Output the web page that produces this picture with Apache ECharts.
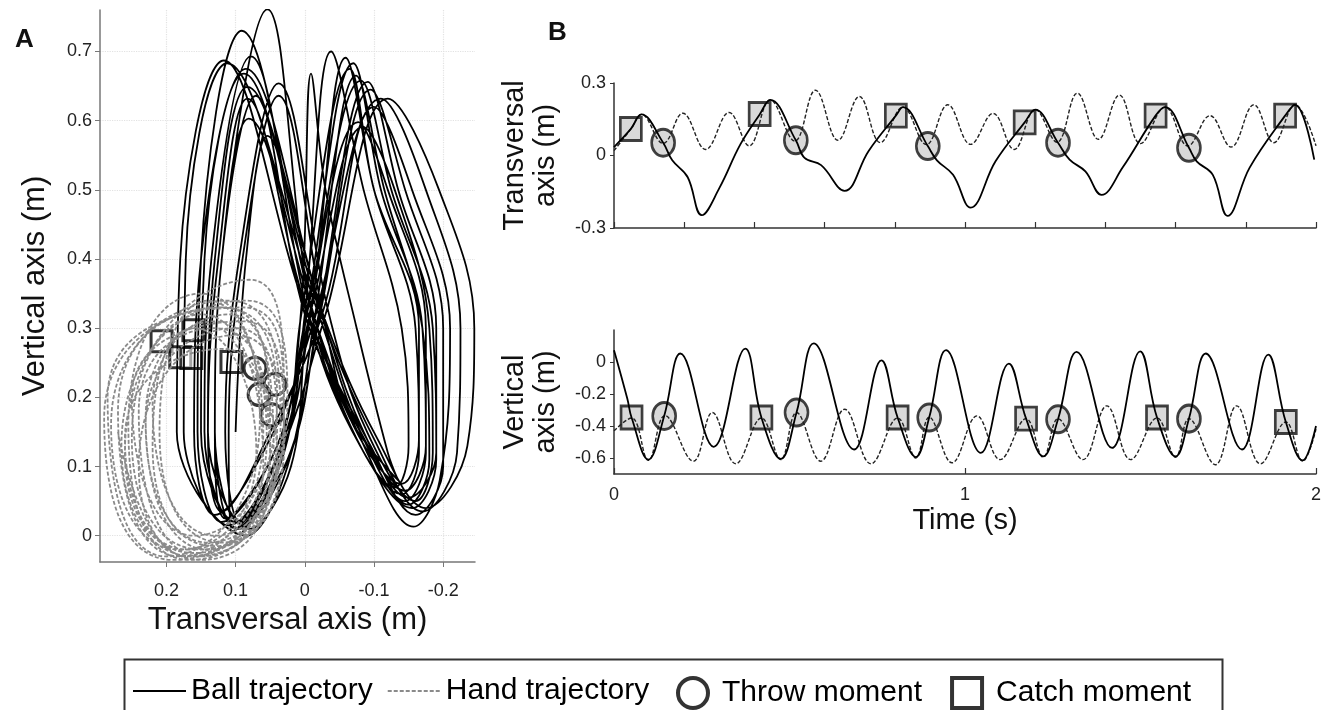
<!DOCTYPE html>
<html><head><meta charset="utf-8">
<script src="https://cdn.jsdelivr.net/npm/echarts@6/dist/echarts.min.js"></script>
<style>html,body{margin:0;padding:0;background:#fff}#c{width:1330px;height:710px}</style>
</head><body><div id="c"></div><script>
// ---------- Panel A: ball trajectory key points per juggling cycle ----------
const aLeftBottom = [[0.09,0.005],[0.1,0.01],[0.12,0.02],[0.085,0.0],[0.11,0.015],[0.095,0.01],[0.13,0.03],[0.1,0.02],[0.08,0.01],[0.115,0.025],[0.09,0.015],[0.105,0.005],[0.12,0.035],[0.095,0.02]];
const aRiseL = [[0.03,0.12],[0.035,0.11],[0.04,0.13],[0.025,0.1],[0.03,0.14],[0.02,0.12],[0.045,0.15],[0.035,0.12],[0.02,0.1],[0.04,0.13],[0.03,0.12],[0.025,0.11],[0.05,0.15],[0.035,0.13]];
const aCross1 = [[0.0,0.32],[-0.01,0.33],[0.0,0.31],[-0.015,0.32],[-0.005,0.33],[-0.02,0.32],[-0.01,0.3],[-0.03,0.32],[-0.005,0.31],[-0.01,0.33],[0.005,0.32],[-0.02,0.31],[-0.025,0.32],[0.005,0.33]];
const aRightPeak = [[-0.038,0.70],[-0.059,0.691],[-0.07,0.683],[-0.074,0.665],[-0.081,0.658],[-0.091,0.656],[-0.11,0.632],[-0.12,0.632],[-0.077,0.598],[-0.084,0.591],[-0.065,0.675],[-0.095,0.645],[-0.1,0.62],[-0.009,0.668]];
const aRightUpper = [[-0.085,0.5],[-0.1,0.5],[-0.11,0.5],[-0.115,0.5],[-0.125,0.5],[-0.135,0.5],[-0.175,0.5],[-0.194,0.5],[-0.12,0.5],[-0.13,0.5],[-0.1,0.5],[-0.145,0.5],[-0.155,0.5],[-0.03,0.5]];
const aRightArm = [[-0.14,0.3],[-0.16,0.3],[-0.17,0.3],[-0.17,0.3],[-0.185,0.3],[-0.19,0.3],[-0.225,0.3],[-0.245,0.3],[-0.175,0.3],[-0.18,0.3],[-0.165,0.3],[-0.2,0.3],[-0.21,0.3],[-0.075,0.3]];
const aRightLow = [[-0.15,0.13],[-0.165,0.12],[-0.175,0.12],[-0.18,0.11],[-0.19,0.11],[-0.19,0.12],[-0.22,0.12],[-0.235,0.13],[-0.175,0.13],[-0.185,0.12],[-0.165,0.14],[-0.2,0.1],[-0.195,0.08],[-0.12,0.12]];
const aRightBottom = [[-0.13,0.07],[-0.14,0.06],[-0.145,0.05],[-0.15,0.045],[-0.155,0.04],[-0.15,0.055],[-0.17,0.035],[-0.175,0.04],[-0.145,0.065],[-0.16,0.05],[-0.14,0.075],[-0.16,0.03],[-0.157,0.013],[-0.135,0.08]];
const aRightInner = [[-0.07,0.15],[-0.075,0.14],[-0.08,0.15],[-0.085,0.14],[-0.08,0.13],[-0.085,0.15],[-0.1,0.14],[-0.105,0.14],[-0.075,0.16],[-0.09,0.15],[-0.07,0.16],[-0.095,0.13],[-0.09,0.12],[-0.065,0.17]];
const aCross2 = [[-0.01,0.32],[-0.015,0.31],[0.0,0.33],[-0.02,0.32],[-0.01,0.3],[-0.025,0.32],[-0.02,0.33],[-0.03,0.31],[0.0,0.32],[-0.035,0.32],[-0.03,0.3],[-0.005,0.32],[-0.015,0.31],[-0.01,0.33]];
const aLeftPeak = [[0.054,0.761],[0.091,0.73],[0.117,0.687],[0.112,0.683],[0.078,0.693],[0.085,0.675],[0.088,0.668],[0.083,0.649],[0.071,0.636],[0.038,0.654],[0.038,0.636],[0.083,0.632],[0.081,0.603],[0.054,0.578]];
const aLeftArm = [[0.12,0.4],[0.15,0.4],[0.18,0.4],[0.172,0.4],[0.135,0.4],[0.15,0.4],[0.145,0.4],[0.13,0.4],[0.12,0.4],[0.095,0.4],[0.09,0.4],[0.125,0.4],[0.12,0.4],[0.085,0.4]];
const aLeftLow = [[0.13,0.15],[0.155,0.15],[0.185,0.15],[0.175,0.15],[0.145,0.15],[0.16,0.15],[0.15,0.15],[0.14,0.15],[0.13,0.15],[0.115,0.15],[0.11,0.15],[0.14,0.15],[0.13,0.15],[0.1,0.15]];
// ---------- Panel A: hand loops (left, bottom, right, top extremes) ----------
const aHandLeft = [[0.27,0.15],[0.29,0.17],[0.25,0.14],[0.23,0.16],[0.26,0.12],[0.24,0.18],[0.28,0.16],[0.22,0.13],[0.25,0.2],[0.27,0.18],[0.21,0.15],[0.24,0.1],[0.26,0.14],[0.23,0.17],[0.285,0.2],[0.255,0.16],[0.22,0.19],[0.265,0.13]];
const aHandBottom = [[0.17,-0.03],[0.19,-0.035],[0.15,-0.02],[0.14,-0.01],[0.16,-0.025],[0.15,-0.03],[0.18,-0.02],[0.13,-0.015],[0.16,0.0],[0.18,-0.03],[0.12,-0.01],[0.15,-0.035],[0.17,-0.02],[0.14,-0.02],[0.2,-0.03],[0.165,-0.035],[0.13,0.0],[0.16,-0.03]];
const aHandRight = [[0.05,0.12],[0.06,0.1],[0.04,0.15],[0.03,0.18],[0.05,0.13],[0.035,0.16],[0.07,0.12],[0.03,0.13],[0.04,0.2],[0.06,0.15],[0.03,0.14],[0.05,0.09],[0.055,0.14],[0.03,0.17],[0.065,0.17],[0.045,0.11],[0.025,0.2],[0.04,0.12]];
const aHandTop = [[0.12,0.33],[0.15,0.32],[0.1,0.3],[0.08,0.37],[0.13,0.3],[0.11,0.34],[0.16,0.3],[0.09,0.31],[0.12,0.33],[0.14,0.34],[0.1,0.29],[0.12,0.27],[0.13,0.31],[0.09,0.33],[0.15,0.35],[0.11,0.32],[0.085,0.34],[0.12,0.3]];
const aThrow = [[0.072,0.242],[0.043,0.219],[0.066,0.204],[0.048,0.175]];
const aCatch = [[0.207,0.281],[0.161,0.297],[0.18,0.258],[0.164,0.257],[0.106,0.251]];
// ---------- Panel B (time in s) ----------
const b1Ball = [[0,0.035],[0.048,0.11],[0.078,0.17],[0.14,0.053],[0.166,-0.02],[0.21,-0.09],[0.25,-0.247],[0.30,-0.135],[0.36,0.046],[0.415,0.17],[0.445,0.23],[0.518,0.063],[0.543,-0.01],[0.59,-0.04],[0.657,-0.146],[0.725,0.018],[0.803,0.165],[0.823,0.2],[0.894,0.039],[0.92,-0.02],[0.966,-0.08],[1.016,-0.216],[1.087,-0.024],[1.17,0.137],[1.2,0.19],[1.265,0.053],[1.298,-0.017],[1.343,-0.066],[1.389,-0.163],[1.449,-0.05],[1.543,0.165],[1.57,0.2],[1.638,0.032],[1.66,-0.024],[1.706,-0.08],[1.748,-0.25],[1.811,-0.05],[1.912,0.165],[1.94,0.21],[1.995,-0.017]];
const b1Hand = [[0,0.02],[0.048,0.11],[0.078,0.17],[0.14,0.05],[0.196,0.175],[0.261,0.025],[0.328,0.178],[0.385,0.04],[0.445,0.23],[0.515,0.06],[0.574,0.27],[0.638,0.063],[0.699,0.244],[0.759,0.053],[0.823,0.2],[0.89,0.045],[0.951,0.21],[1.016,0.046],[1.08,0.174],[1.14,0.025],[1.2,0.19],[1.262,0.055],[1.32,0.258],[1.38,0.067],[1.44,0.25],[1.50,0.049],[1.57,0.2],[1.635,0.04],[1.698,0.165],[1.758,0.035],[1.823,0.21],[1.88,0.053],[1.94,0.21],[2.0,0.04]];
const b1Throw = [[0.14,0.053],[0.518,0.063],[0.894,0.039],[1.265,0.053],[1.638,0.032]];
const b1Catch = [[0.048,0.11],[0.415,0.172],[0.803,0.165],[1.17,0.137],[1.543,0.165],[1.912,0.165]];
const b2Ball = [[0,0.074],[0.038,-0.23],[0.05,-0.347],[0.098,-0.61],[0.143,-0.337],[0.189,0.053],[0.284,-0.53],[0.374,0.084],[0.42,-0.347],[0.475,-0.606],[0.52,-0.316],[0.569,0.116],[0.684,-0.547],[0.762,0.01],[0.808,-0.347],[0.86,-0.594],[0.898,-0.347],[0.946,0.074],[1.045,-0.568],[1.125,-0.01],[1.174,-0.354],[1.223,-0.59],[1.265,-0.358],[1.318,0.063],[1.419,-0.537],[1.499,0.067],[1.547,-0.347],[1.6,-0.59],[1.638,-0.354],[1.686,0.053],[1.789,-0.547],[1.864,0.046],[1.914,-0.375],[1.962,-0.615],[2.0,-0.4]];
const b2Hand = [[0,-0.43],[0.05,-0.35],[0.098,-0.615],[0.145,-0.335],[0.226,-0.62],[0.28,-0.316],[0.347,-0.636],[0.42,-0.35],[0.475,-0.61],[0.52,-0.316],[0.589,-0.62],[0.657,-0.295],[0.732,-0.636],[0.808,-0.35],[0.86,-0.6],[0.898,-0.345],[0.963,-0.63],[1.034,-0.337],[1.1,-0.61],[1.174,-0.354],[1.223,-0.595],[1.265,-0.355],[1.336,-0.61],[1.404,-0.274],[1.472,-0.61],[1.547,-0.35],[1.6,-0.595],[1.638,-0.354],[1.713,-0.642],[1.774,-0.274],[1.842,-0.636],[1.914,-0.375],[1.962,-0.62],[2.0,-0.42]];
const b2Throw = [[0.143,-0.337],[0.52,-0.316],[0.898,-0.347],[1.265,-0.358],[1.638,-0.354]];
const b2Catch = [[0.05,-0.347],[0.42,-0.347],[0.808,-0.347],[1.174,-0.354],[1.547,-0.347],[1.914,-0.375]];
const aXTicks = [-0.2,-0.1,0,0.1,0.2];
const aYTicks = [0,0.1,0.2,0.3,0.4,0.5,0.6,0.7];
const b2YTicks = [-0.6,-0.4,-0.2,0];

// build path tables from the key points
const aBall = [];
for (let i = 0; i < aLeftPeak.length; i++) {
  aBall.push(aLeftBottom[i], aRiseL[i], aCross1[i], aRightPeak[i], aRightUpper[i], aRightArm[i], aRightLow[i], aRightBottom[i], aRightInner[i], aCross2[i], aLeftPeak[i], aLeftArm[i], aLeftLow[i]);
}
const aHand = [];
for (let i = 0; i < aHandLeft.length; i++) {
  aHand.push(aHandLeft[i], aHandBottom[i], aHandRight[i], aHandTop[i]);
}

const FONT = 'Liberation Sans, Arial, sans-serif';
const chart = echarts.init(document.getElementById('c'));
const axisLineA = {show:true, onZero:false, lineStyle:{color:'#777', width:1.5}};
const axisLineB = {show:true, onZero:false, lineStyle:{color:'#333', width:1.5}};
const lab = {fontFamily:FONT, fontSize:18, color:'#222'};
const nameA = {fontFamily:FONT, fontSize:31, color:'#111'};
const nameB = {fontFamily:FONT, fontSize:29, color:'#111', lineHeight:31};
const markB = {color:'#cfcfcf', borderColor:'#111', borderWidth:2.8};
const markA = {color:'rgba(255,255,255,0.7)', borderColor:'#000', borderWidth:3};
const legText = {fontFamily:FONT, fontSize:30, color:'#000'};

chart.setOption({
  animation:false,
  backgroundColor:'#fff',
  textStyle:{fontFamily:FONT},
  title:[
    {text:'A', left:10, top:22, textStyle:{fontFamily:FONT, fontSize:26, fontWeight:'bold', color:'#111'}},
    {text:'B', left:543, top:15, textStyle:{fontFamily:FONT, fontSize:26, fontWeight:'bold', color:'#111'}}
  ],
  grid:[
    {left:100, top:10, width:375, height:552, outerBoundsMode:'none'},
    {left:614, top:83, width:702, height:145, outerBoundsMode:'none'},
    {left:614, top:330, width:702, height:144, outerBoundsMode:'none'}
  ],
  xAxis:[
    {gridIndex:0, type:'value', inverse:true, min:-0.246, max:0.296,
     axisLine:axisLineA, axisTick:{show:true, length:5, lineStyle:{color:'#777'}, customValues:aXTicks},
     axisLabel:{...lab, margin:20, customValues:aXTicks},
     splitLine:{show:true, lineStyle:{color:'#e2e2e2', type:'dotted', width:1.2}},
     name:'Transversal axis (m)', nameLocation:'middle', nameGap:38, nameTextStyle:nameA},
    {gridIndex:1, type:'value', min:0, max:2, interval:0.2,
     axisLine:axisLineB, axisTick:{show:true, inside:true, length:6, lineStyle:{color:'#333', width:1.2}},
     axisLabel:{show:false}, splitLine:{show:false}},
    {gridIndex:2, type:'value', min:0, max:2, interval:1,
     axisLine:axisLineB, axisTick:{show:true, inside:true, length:6, lineStyle:{color:'#333', width:1.2}},
     axisLabel:{...lab, margin:12}, splitLine:{show:false},
     name:'Time (s)', nameLocation:'middle', nameGap:31, nameTextStyle:nameB}
  ],
  yAxis:[
    {gridIndex:0, type:'value', min:-0.038, max:0.76,
     axisLine:axisLineA, axisTick:{show:true, length:5, lineStyle:{color:'#777'}, customValues:aYTicks},
     axisLabel:{...lab, margin:8, customValues:aYTicks},
     splitLine:{show:true, lineStyle:{color:'#e2e2e2', type:'dotted', width:1.2}},
     name:'Vertical axis (m)', nameLocation:'middle', nameGap:49, nameTextStyle:nameA},
    {gridIndex:1, type:'value', min:-0.3, max:0.3, interval:0.3,
     axisLine:axisLineB, axisTick:{show:true, length:4, lineStyle:{color:'#333'}},
     axisLabel:{...lab, margin:8}, splitLine:{show:false},
     name:'Transversal\naxis (m)', nameLocation:'middle', nameGap:53, nameTextStyle:nameB},
    {gridIndex:2, type:'value', min:-0.7, max:0.2,
     axisLine:axisLineB, axisTick:{show:true, length:4, lineStyle:{color:'#333'}, customValues:b2YTicks},
     axisLabel:{...lab, margin:8, customValues:b2YTicks}, splitLine:{show:false},
     name:'Vertical\naxis (m)', nameLocation:'middle', nameGap:53, nameTextStyle:nameB}
  ],
  legend:[
    {left:127, top:671, itemWidth:53, itemHeight:30, itemGap:14, textStyle:legText, selectedMode:false,
     data:[{name:'Ball trajectory', itemStyle:{opacity:0}}, {name:'Hand trajectory', itemStyle:{opacity:0}}]},
    {left:671, top:671, itemWidth:48, itemHeight:30, itemGap:28, textStyle:legText, selectedMode:false,
     data:[{name:'Throw moment', icon:'circle', itemStyle:{color:'#fff', borderColor:'#000', borderWidth:4}},
           {name:'Catch moment', icon:'path://M0,0H10V10H0Z', itemStyle:{color:'#fff', borderColor:'#000', borderWidth:4}}]}
  ],
  graphic:[
    {type:'rect', left:122, top:657, shape:{width:1098, height:70}, style:{fill:'none', stroke:'#333', lineWidth:2}, silent:true}
  ],
  series:[
    {name:'Ball trajectory', type:'line', xAxisIndex:0, yAxisIndex:0, data:aBall, smooth:0.38, symbol:'none',
     itemStyle:{color:'#000'}, lineStyle:{color:'#000', width:1.8}},
    {name:'Throw moment', type:'scatter', xAxisIndex:0, yAxisIndex:0, data:aThrow, symbol:'circle', symbolSize:22, itemStyle:markA},
    {name:'Catch moment', type:'scatter', xAxisIndex:0, yAxisIndex:0, data:aCatch, symbol:'rect', symbolSize:21, itemStyle:markA},
    {name:'Hand trajectory', type:'line', xAxisIndex:0, yAxisIndex:0, data:aHand, smooth:0.6, symbol:'none',
     itemStyle:{color:'#8a8a8a'}, lineStyle:{color:'#8a8a8a', width:1.8, type:[4,2]}},
    {name:'Hand trajectory', type:'line', xAxisIndex:1, yAxisIndex:1, data:b1Hand, smooth:0.4, symbol:'none',
     itemStyle:{color:'#222'}, lineStyle:{color:'#222', width:1.4, type:[4,2]}},
    {name:'Ball trajectory', type:'line', xAxisIndex:1, yAxisIndex:1, data:b1Ball, smooth:0.4, symbol:'none',
     itemStyle:{color:'#000'}, lineStyle:{color:'#000', width:1.8}},
    {name:'Catch moment', type:'scatter', xAxisIndex:1, yAxisIndex:1, data:b1Catch, symbol:'rect', symbolSize:[21,23], itemStyle:markB},
    {name:'Throw moment', type:'scatter', xAxisIndex:1, yAxisIndex:1, data:b1Throw, symbol:'circle', symbolSize:[23,27], itemStyle:markB},
    {name:'Hand trajectory', type:'line', xAxisIndex:2, yAxisIndex:2, data:b2Hand, smooth:0.4, symbol:'none',
     itemStyle:{color:'#222'}, lineStyle:{color:'#222', width:1.4, type:[4,2]}},
    {name:'Ball trajectory', type:'line', xAxisIndex:2, yAxisIndex:2, data:b2Ball, smooth:0.4, symbol:'none',
     itemStyle:{color:'#000'}, lineStyle:{color:'#000', width:1.8}},
    {name:'Catch moment', type:'scatter', xAxisIndex:2, yAxisIndex:2, data:b2Catch, symbol:'rect', symbolSize:[21,23], itemStyle:markB},
    {name:'Throw moment', type:'scatter', xAxisIndex:2, yAxisIndex:2, data:b2Throw, symbol:'circle', symbolSize:[23,27], itemStyle:markB}
  ]
});
</script></body></html>
